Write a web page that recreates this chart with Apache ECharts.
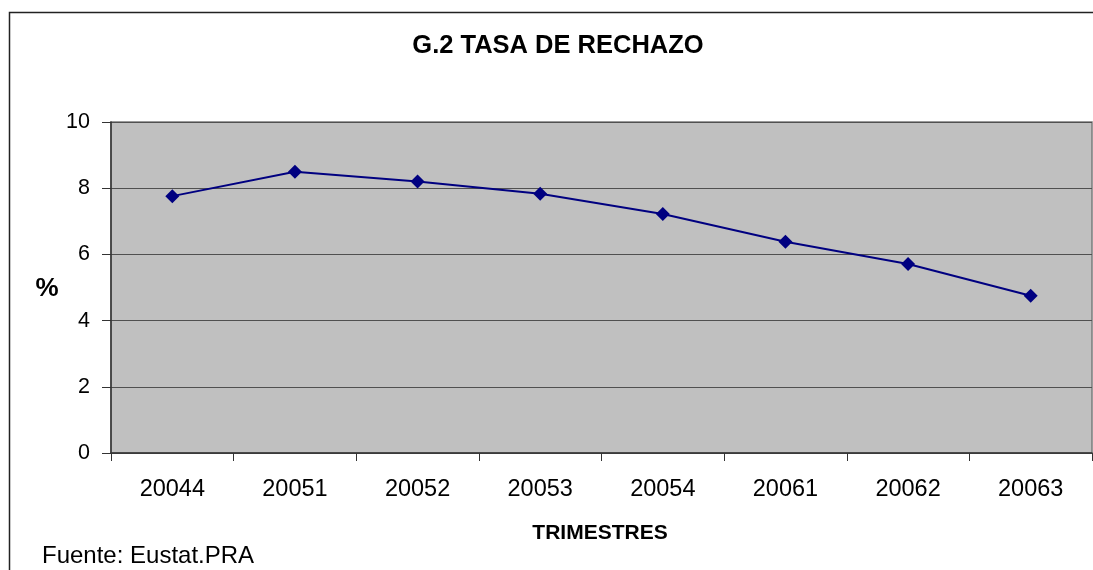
<!DOCTYPE html>
<html>
<head>
<meta charset="utf-8">
<script src="https://cdn.jsdelivr.net/npm/echarts@6/dist/echarts.min.js"></script>
<style>
html, body { margin: 0; padding: 0; background: #fff; }
#main { width: 1093px; height: 570px; }
</style>
</head>
<body>
<div id="main"></div>
<script>
// trimestres (año + trimestre)
const trimestres = ['20044', '20051', '20052', '20053', '20054', '20061', '20062', '20063'];
// tasa de rechazo, %
const tasaRechazo = [7.76, 8.50, 8.20, 7.83, 7.22, 6.38, 5.71, 4.75];
const yTicks = { min: 0, max: 10, interval: 2 };

const font = '"Liberation Sans", Arial, sans-serif';

let chart = echarts.init(document.getElementById('main'));

chart.setOption({
    animation: false,
    textStyle: { fontFamily: font },
    grid: {
        left: 111,
        top: 122,
        right: 1,
        bottom: 117,
        show: true,
        backgroundColor: '#c0c0c0',
        borderColor: '#7a7a7a',
        borderWidth: 1.5
    },
    xAxis: {
        type: 'category',
        data: trimestres,
        boundaryGap: true,
        axisLine: { lineStyle: { color: '#333', width: 1.5 } },
        axisTick: { show: true, length: 8, lineStyle: { color: '#333' } },
        axisLabel: { color: '#000', fontSize: 23.5, margin: 25, fontFamily: font }
    },
    yAxis: {
        type: 'value',
        min: yTicks.min,
        max: yTicks.max,
        interval: yTicks.interval,
        axisLine: { show: true, lineStyle: { color: '#333', width: 1.5 } },
        axisTick: { show: true, length: 9, lineStyle: { color: '#333' } },
        axisLabel: { color: '#000', fontSize: 21.5, margin: 21, fontFamily: font },
        splitLine: { show: true, lineStyle: { color: '#505050', width: 1.2 } }
    },
    series: [{
        name: 'Tasa de rechazo',
        type: 'line',
        data: tasaRechazo,
        symbol: 'diamond',
        symbolSize: 14,
        itemStyle: { color: '#000080' },
        lineStyle: { color: '#000080', width: 2 }
    }],
    graphic: [
        {
            // marco exterior
            type: 'rect',
            shape: { x: 9.5, y: 12.5, width: 1100, height: 600 },
            style: { fill: 'none', stroke: '#222', lineWidth: 1.5 },
            silent: true,
            z: -10
        },
        {
            type: 'text',
            x: 558, y: 46,
            style: {
                text: 'G.2 TASA DE RECHAZO',
                font: 'bold 25.5px ' + font,
                fill: '#000',
                align: 'center',
                verticalAlign: 'middle'
            }
        },
        {
            type: 'text',
            x: 47, y: 289,
            style: {
                text: '%',
                font: 'bold 26px ' + font,
                fill: '#000',
                align: 'center',
                verticalAlign: 'middle'
            }
        },
        {
            type: 'text',
            x: 600, y: 533,
            style: {
                text: 'TRIMESTRES',
                font: 'bold 21px ' + font,
                fill: '#000',
                align: 'center',
                verticalAlign: 'middle'
            }
        },
        {
            type: 'text',
            x: 42, y: 556,
            style: {
                text: 'Fuente: Eustat.PRA',
                font: '24px ' + font,
                fill: '#000',
                align: 'left',
                verticalAlign: 'middle'
            }
        }
    ]
});
</script>
</body>
</html>
